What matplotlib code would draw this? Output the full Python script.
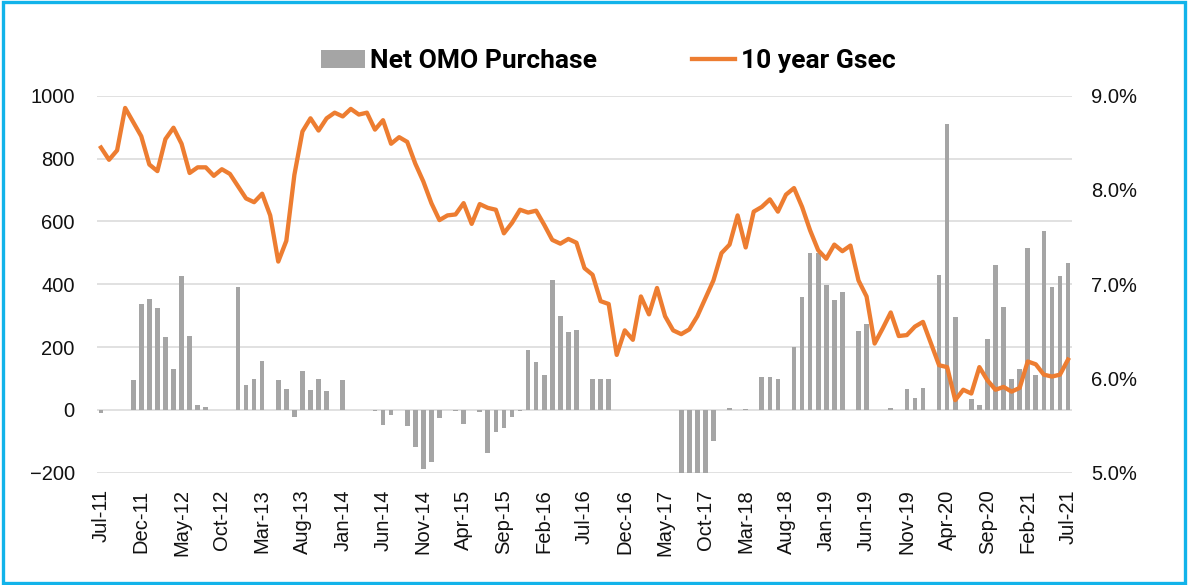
import matplotlib
matplotlib.use('Agg')
import matplotlib.pyplot as plt
from matplotlib.patches import Patch, Rectangle
from matplotlib.lines import Line2D
from matplotlib.ticker import FuncFormatter

plt.rcParams['font.family'] = ['Liberation Sans', 'DejaVu Sans']

# ---- data (monthly, Jul-11 .. Jul-21) ----
tick_labels = ['Jul-11', 'Dec-11', 'May-12', 'Oct-12', 'Mar-13', 'Aug-13', 'Jan-14',
               'Jun-14', 'Nov-14', 'Apr-15', 'Sep-15', 'Feb-16', 'Jul-16', 'Dec-16',
               'May-17', 'Oct-17', 'Mar-18', 'Aug-18', 'Jan-19', 'Jun-19', 'Nov-19',
               'Apr-20', 'Sep-20', 'Feb-21', 'Jul-21']

net_omo = [
    -10, 0, 0, 0, 95, 336, 352, 323, 233, 130, 427, 235, 15, 8, 0, 0, 0, 390, 79, 99,
    156, 0, 96, 67, -24, 123, 62, 99, 60, 0, 95, 0, 0, 0, -3, -49, -17, 0, -51, -119,
    -189, -166, -27, 0, -3, -46, 0, -8, -137, -70, -59, -22, -3, 192, 152, 112, 413, 299, 248, 253,
    0, 98, 98, 98, 0, 0, 0, 0, 0, 0, 0, 0, -260, -260, -260, -260, -100, 0, 5, 0,
    3, 0, 103, 103, 98, 0, 201, 359, 499, 499, 399, 349, 375, 0, 250, 274, 0, 0, 5, 0,
    65, 37, 69, 0, 429, 909, 294, 0, 36, 17, 225, 461, 327, 98, 129, 515, 110, 570, 392, 425,
    468,
]

gsec_10y = [
    8.45, 8.32, 8.42, 8.87, 8.72, 8.57, 8.27, 8.20, 8.54, 8.66, 8.49, 8.18, 8.24, 8.24, 8.15,
    8.22, 8.17, 8.04, 7.91, 7.87, 7.96, 7.73, 7.24, 7.46, 8.16, 8.62, 8.76, 8.63, 8.76, 8.82,
    8.78, 8.86, 8.80, 8.82, 8.64, 8.74, 8.49, 8.56, 8.51, 8.28, 8.09, 7.86, 7.68, 7.73, 7.74,
    7.86, 7.64, 7.85, 7.81, 7.79, 7.54, 7.65, 7.79, 7.76, 7.78, 7.63, 7.47, 7.43, 7.48, 7.44,
    7.17, 7.10, 6.82, 6.79, 6.25, 6.51, 6.41, 6.87, 6.68, 6.96, 6.66, 6.51, 6.47, 6.52, 6.66,
    6.85, 7.04, 7.33, 7.42, 7.73, 7.39, 7.77, 7.82, 7.90, 7.77, 7.95, 8.02, 7.82, 7.57, 7.36,
    7.27, 7.42, 7.35, 7.41, 7.04, 6.87, 6.37, 6.53, 6.70, 6.45, 6.46, 6.55, 6.60, 6.37, 6.14,
    6.12, 5.77, 5.88, 5.84, 6.12, 5.98, 5.88, 5.91, 5.86, 5.90, 6.18, 6.15, 6.04, 6.02, 6.04,
    6.20,
]

bar_color = '#A5A5A5'
line_color = '#ED7D31'
grid_color = '#D9D9D9'

fig = plt.figure(figsize=(11.88, 5.85), dpi=100)
ax = fig.add_axes([0.0816, 0.192, 0.8208, 0.6444])
ax2 = ax.twinx()

x = list(range(len(net_omo)))
ax.bar(x, net_omo, width=0.58, color=bar_color, zorder=2)
ax2.plot(x, gsec_10y, color=line_color, lw=3.1, solid_joinstyle='round', zorder=3)

ax.set_xlim(-0.5, len(net_omo) - 0.5)
ax.set_ylim(-200, 1000)
ax.set_yticks(range(-200, 1001, 200))
ax2.set_ylim(5.0, 9.0)
ax2.set_yticks([5, 6, 7, 8, 9])
ax2.yaxis.set_major_formatter(FuncFormatter(lambda v, p: f'{v:.1f}%'))

ax.set_xticks(range(0, len(net_omo), 5))
ax.set_xticklabels(tick_labels, rotation=90)

ax.grid(axis='y', color=grid_color, lw=1.1, zorder=0)
ax.set_axisbelow(True)
for a in (ax, ax2):
    for s in a.spines.values():
        s.set_visible(False)
    a.tick_params(length=0, labelsize=14.5, colors='#111111')
ax.tick_params(axis='y', pad=16)
ax.tick_params(axis='x', pad=12)
ax2.tick_params(axis='y', pad=14)

handles = [Patch(facecolor=bar_color, edgecolor='none'),
           Line2D([], [], color=line_color, lw=3.1)]
fig.legend(handles, ['Net OMO Purchase', '10 year Gsec'], loc='center',
           bbox_to_anchor=(0.512, 0.895), ncol=2, frameon=False,
           handlelength=1.65, handletextpad=0.2, columnspacing=3.6,
           prop={'family': 'Roboto', 'weight': 'bold', 'size': 19})

# blue frame around the picture
fig.patches.append(Rectangle((0.0025, 0.004), 0.995, 0.992, transform=fig.transFigure,
                             fill=False, ec='#12B3EA', lw=2.4))

fig.savefig('out.png', dpi=100)
